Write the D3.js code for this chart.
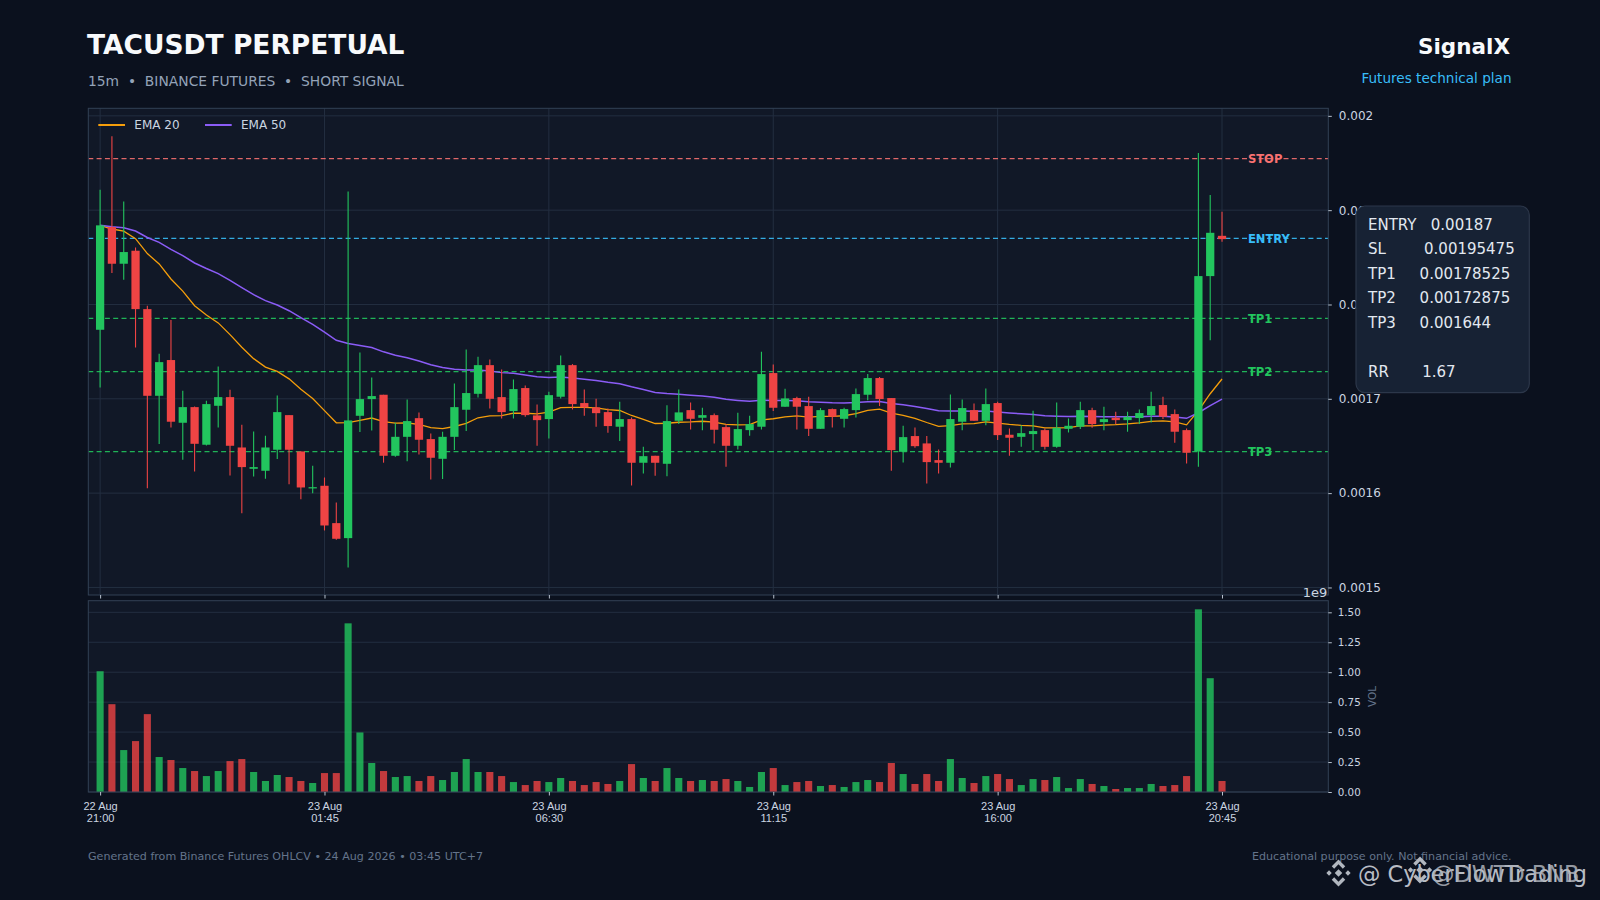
<!DOCTYPE html>
<html>
<head>
<meta charset="utf-8">
<script src="https://cdn.jsdelivr.net/npm/d3@7"></script>
<style>
  html, body { margin: 0; padding: 0; background: #0b111e; }
  svg { display: block; font-family: "DejaVu Sans", sans-serif; }
  .pre { white-space: pre; }
</style>
</head>
<body>
<svg id="chart" width="1600" height="900"></svg>
<script>
// ---------------- DATA ----------------
const symbol = "TACUSDT PERPETUAL";
const subtitle = "15m  \u2022  BINANCE FUTURES  \u2022  SHORT SIGNAL";
const startLabel = "22 Aug 21:00";   // first candle, 15m interval

const opens = [
  0.0017732,0.0018821,0.0018432,0.0018570,0.0017951,0.0017032,0.0017411,0.0016746,0.0016912,0.0016513,
  0.0016926,0.0017018,0.0016484,0.0016258,0.0016237,0.0016460,0.0016827,0.0016442,0.0016050,0.0016078,
  0.0015682,0.0015523,0.0016820,0.0016997,0.0017043,0.0016396,0.0016597,0.0016795,0.0016573,0.0016364,
  0.0016597,0.0016884,0.0017053,0.0017357,0.0017018,0.0016870,0.0017114,0.0016824,0.0016785,0.0017022,
  0.0017357,0.0016955,0.0016909,0.0016859,0.0016704,0.0016785,0.0016322,0.0016396,0.0016311,0.0016767,
  0.0016880,0.0016799,0.0016827,0.0016700,0.0016502,0.0016668,0.0016704,0.0017273,0.0016916,0.0017008,
  0.0016923,0.0016682,0.0016891,0.0016788,0.0016880,0.0017043,0.0017220,0.0017008,0.0016438,0.0016605,
  0.0016527,0.0016350,0.0016322,0.0016757,0.0016880,0.0016767,0.0016955,0.0016619,0.0016597,0.0016626,
  0.0016668,0.0016491,0.0016682,0.0016704,0.0016880,0.0016753,0.0016799,0.0016774,0.0016796,0.0016827,
  0.0016934,0.0016838,0.0016668,0.0016441,0.0018301,0.0018728
];
const highs = [
  0.0019217,0.0019783,0.0019093,0.0018605,0.0017987,0.0017478,0.0017835,0.0017085,0.0016919,0.0016979,
  0.0017343,0.0017096,0.0016725,0.0016654,0.0016608,0.0017036,0.0016827,0.0016442,0.0016290,0.0016166,
  0.0015901,0.0019199,0.0017492,0.0017227,0.0017043,0.0016746,0.0016993,0.0016856,0.0016633,0.0016650,
  0.0017163,0.0017524,0.0017446,0.0017418,0.0017312,0.0017205,0.0017142,0.0016940,0.0017075,0.0017460,
  0.0017368,0.0017099,0.0017000,0.0016898,0.0016969,0.0016802,0.0016491,0.0016396,0.0016933,0.0017099,
  0.0016962,0.0016905,0.0016845,0.0016732,0.0016852,0.0016820,0.0017499,0.0017365,0.0017106,0.0017022,
  0.0017022,0.0016902,0.0016898,0.0016905,0.0017110,0.0017262,0.0017231,0.0017008,0.0016714,0.0016696,
  0.0016605,0.0016463,0.0017046,0.0016993,0.0016951,0.0017110,0.0016969,0.0016686,0.0016721,0.0016873,
  0.0016686,0.0016962,0.0016792,0.0016969,0.0016905,0.0016916,0.0016863,0.0016863,0.0016887,0.0017075,
  0.0017022,0.0016887,0.0016686,0.0019605,0.0019160,0.0018983
];
const lows = [
  0.0017121,0.0018333,0.0018262,0.0017545,0.0016053,0.0016520,0.0016696,0.0016354,0.0016230,0.0016506,
  0.0016696,0.0016187,0.0015788,0.0016177,0.0016152,0.0016361,0.0016095,0.0015936,0.0016000,0.0015604,
  0.0015505,0.0015212,0.0016647,0.0016665,0.0016323,0.0016385,0.0016339,0.0016410,0.0016145,0.0016149,
  0.0016456,0.0016658,0.0017015,0.0016898,0.0016792,0.0016792,0.0016810,0.0016502,0.0016580,0.0017004,
  0.0016887,0.0016820,0.0016704,0.0016640,0.0016552,0.0016081,0.0016209,0.0016184,0.0016180,0.0016732,
  0.0016675,0.0016668,0.0016527,0.0016279,0.0016463,0.0016608,0.0016675,0.0016870,0.0016916,0.0016675,
  0.0016605,0.0016682,0.0016696,0.0016696,0.0016803,0.0016986,0.0016923,0.0016237,0.0016325,0.0016481,
  0.0016103,0.0016209,0.0016272,0.0016668,0.0016767,0.0016721,0.0016562,0.0016396,0.0016491,0.0016456,
  0.0016463,0.0016481,0.0016643,0.0016679,0.0016693,0.0016668,0.0016732,0.0016651,0.0016732,0.0016750,
  0.0016785,0.0016534,0.0016315,0.0016279,0.0017622,0.0018665
];
const closes = [
  0.0018839,0.0018432,0.0018556,0.0017951,0.0017032,0.0017389,0.0016757,0.0016912,0.0016523,0.0016944,
  0.0017018,0.0016502,0.0016276,0.0016276,0.0016484,0.0016859,0.0016460,0.0016060,0.0016063,0.0015657,
  0.0015516,0.0016771,0.0016997,0.0017029,0.0016396,0.0016597,0.0016764,0.0016566,0.0016375,0.0016597,
  0.0016912,0.0017061,0.0017357,0.0017000,0.0016859,0.0017103,0.0016827,0.0016774,0.0017039,0.0017357,
  0.0016944,0.0016909,0.0016848,0.0016711,0.0016785,0.0016322,0.0016392,0.0016322,0.0016764,0.0016856,
  0.0016788,0.0016827,0.0016672,0.0016502,0.0016679,0.0016732,0.0017262,0.0016905,0.0017004,0.0016916,
  0.0016682,0.0016880,0.0016810,0.0016891,0.0017050,0.0017220,0.0016997,0.0016456,0.0016594,0.0016498,
  0.0016329,0.0016322,0.0016785,0.0016902,0.0016767,0.0016944,0.0016615,0.0016587,0.0016636,0.0016658,
  0.0016491,0.0016693,0.0016714,0.0016880,0.0016732,0.0016785,0.0016774,0.0016810,0.0016849,0.0016923,
  0.0016810,0.0016651,0.0016428,0.0018301,0.0018760,0.0018693
];
const volumes = [
  1.008e9,0.733e9,0.350e9,0.425e9,0.650e9,0.292e9,0.267e9,0.200e9,0.175e9,0.133e9,
  0.175e9,0.258e9,0.275e9,0.167e9,0.092e9,0.142e9,0.125e9,0.092e9,0.075e9,0.158e9,
  0.158e9,1.408e9,0.497e9,0.242e9,0.175e9,0.125e9,0.133e9,0.092e9,0.133e9,0.100e9,
  0.167e9,0.275e9,0.167e9,0.167e9,0.133e9,0.083e9,0.058e9,0.092e9,0.083e9,0.117e9,
  0.092e9,0.058e9,0.083e9,0.067e9,0.092e9,0.233e9,0.117e9,0.092e9,0.200e9,0.117e9,
  0.092e9,0.100e9,0.092e9,0.108e9,0.092e9,0.042e9,0.167e9,0.200e9,0.058e9,0.083e9,
  0.092e9,0.050e9,0.058e9,0.042e9,0.083e9,0.100e9,0.083e9,0.242e9,0.150e9,0.067e9,
  0.150e9,0.092e9,0.275e9,0.117e9,0.075e9,0.133e9,0.150e9,0.108e9,0.058e9,0.108e9,
  0.100e9,0.125e9,0.033e9,0.108e9,0.067e9,0.050e9,0.025e9,0.033e9,0.033e9,0.067e9,
  0.050e9,0.058e9,0.133e9,1.525e9,0.950e9,0.092e9
];

// x tick labels (candle index -> label)
const xTickIndex = [0, 19, 38, 57, 76, 95];
const xTickDate  = ["22 Aug", "23 Aug", "23 Aug", "23 Aug", "23 Aug", "23 Aug"];
const xTickTime  = ["21:00", "01:45", "06:30", "11:15", "16:00", "20:45"];

const priceTicks = [0.0015, 0.0016, 0.0017, 0.0018, 0.0019, 0.002];
const volTicks   = [0, 0.25e9, 0.5e9, 0.75e9, 1.0e9, 1.25e9, 1.5e9];

// trade plan levels
const levelNames  = ["STOP", "ENTRY", "TP1", "TP2", "TP3"];
const levelValues = [0.00195475, 0.00187, 0.00178525, 0.00172875, 0.001644];
const planLabels  = ["ENTRY", "SL", "TP1", "TP2", "TP3", "", "RR"];
const planValues  = ["0.00187", "0.00195475", "0.00178525", "0.00172875", "0.001644", "", "1.67"];
const planGaps    = [3, 8, 5, 5, 5, 0, 7];

const emaSpans = [20, 50];

// ---------------- STYLE ----------------
const C = {
  bg: "#0b111e", face: "#111827", spine: "#334155", grid: "#232e40",
  up: "#22c55e", down: "#ef4444", text: "#cbd5e1", muted: "#94a3b8", faint: "#64748b",
  ema20: "#f59e0b", ema50: "#8b5cf6"
};
const levelColor = { STOP: "#f87171", ENTRY: "#38bdf8", TP1: "#22c55e", TP2: "#22c55e", TP3: "#22c55e" };

const svg = d3.select("#chart");
svg.append("rect").attr("width", 1600).attr("height", 900).attr("fill", C.bg);

const L = 88.3, R = 1328.3;
const P = { top: 108.3, bottom: 595 };
const V = { top: 600.7, bottom: 792 };

const n = closes.length;
const idx = d3.range(n);
const x = d3.scaleLinear().domain([-1, 104]).range([L, R]);
const yP = d3.scaleLinear().domain([0.001492, 0.002008]).range([P.bottom, P.top]);
const yV = d3.scaleLinear().domain([0, 1.597e9]).range([V.bottom, V.top]);
const step = x(1) - x(0);

function ema(arr, span) {
  const a = 2 / (span + 1); const out = [];
  arr.forEach((v, i) => out.push(i === 0 ? v : a * v + (1 - a) * out[i - 1]));
  return out;
}

// panels
svg.append("rect").attr("x", L).attr("y", P.top).attr("width", R - L).attr("height", P.bottom - P.top).attr("fill", C.face);
svg.append("rect").attr("x", L).attr("y", V.top).attr("width", R - L).attr("height", V.bottom - V.top).attr("fill", C.face);

// grids
const gP = svg.append("g");
gP.selectAll("line.h").data(priceTicks).join("line")
  .attr("x1", L).attr("x2", R).attr("y1", d => yP(d)).attr("y2", d => yP(d))
  .attr("stroke", C.grid).attr("stroke-width", 1);
gP.selectAll("line.v").data(xTickIndex).join("line")
  .attr("y1", P.top).attr("y2", P.bottom).attr("x1", d => x(d)).attr("x2", d => x(d))
  .attr("stroke", C.grid).attr("stroke-width", 1);
const gV = svg.append("g");
gV.selectAll("line").data(volTicks).join("line")
  .attr("x1", L).attr("x2", R).attr("y1", d => yV(d)).attr("y2", d => yV(d))
  .attr("stroke", C.grid).attr("stroke-width", 1);

// clip for price panel
svg.append("clipPath").attr("id", "clipP").append("rect")
  .attr("x", L).attr("y", P.top).attr("width", R - L).attr("height", P.bottom - P.top);
const plot = svg.append("g").attr("clip-path", "url(#clipP)");

// level lines
plot.selectAll("line.lvl").data(levelValues).join("line")
  .attr("x1", L).attr("x2", R).attr("y1", d => yP(d)).attr("y2", d => yP(d))
  .attr("stroke", (d, i) => levelColor[levelNames[i]]).attr("stroke-width", 1.2)
  .attr("stroke-dasharray", "5,3.3").attr("opacity", 0.9);

// EMAs
const lineGen = d3.line().x((d, i) => x(i)).y(d => yP(d));
const emaColors = [C.ema20, C.ema50];
emaSpans.forEach((s, k) => {
  plot.append("path").attr("d", lineGen(ema(closes, s)))
    .attr("fill", "none").attr("stroke", emaColors[k]).attr("stroke-width", k === 0 ? 1.3 : 1.5);
});

// candles
const cw = step * 0.7;
const cg = plot.append("g");
cg.selectAll("line").data(idx).join("line")
  .attr("x1", i => x(i)).attr("x2", i => x(i))
  .attr("y1", i => yP(highs[i])).attr("y2", i => yP(lows[i]))
  .attr("stroke", i => closes[i] >= opens[i] ? C.up : C.down).attr("stroke-width", 1.1);
cg.selectAll("rect").data(idx).join("rect")
  .attr("x", i => x(i) - cw / 2).attr("width", cw)
  .attr("y", i => yP(Math.max(opens[i], closes[i])))
  .attr("height", i => Math.max(1, Math.abs(yP(opens[i]) - yP(closes[i]))))
  .attr("fill", i => closes[i] >= opens[i] ? C.up : C.down);

// level labels
plot.selectAll("text.lvl").data(levelNames).join("text")
  .attr("x", x(n - 1 + 2.2)).attr("y", (d, i) => yP(levelValues[i])).attr("dy", "0.36em")
  .attr("fill", d => levelColor[d]).attr("font-weight", "bold").attr("font-size", 11.5).text(d => d);

// volume bars
const vw = step * 0.6;
svg.append("g").selectAll("rect").data(idx).join("rect")
  .attr("x", i => x(i) - vw / 2).attr("width", vw)
  .attr("y", i => yV(volumes[i])).attr("height", i => yV(0) - yV(volumes[i]))
  .attr("fill", i => closes[i] >= opens[i] ? C.up : C.down).attr("fill-opacity", 0.8);

// spines
[[P.top, P.bottom], [V.top, V.bottom]].forEach(([t, b]) => {
  svg.append("rect").attr("x", L).attr("y", t).attr("width", R - L).attr("height", b - t)
    .attr("fill", "none").attr("stroke", C.spine).attr("stroke-width", 1);
});

// axes
function styleAxis(g, fs) {
  g.select(".domain").remove();
  g.selectAll(".tick line").attr("stroke", C.text).attr("stroke-width", 0.9);
  g.selectAll(".tick text").attr("fill", C.text).attr("font-size", fs).attr("font-family", "DejaVu Sans");
}
const ayP = svg.append("g").attr("transform", `translate(${R},0)`)
  .call(d3.axisRight(yP).tickValues(priceTicks).tickSize(3.5).tickPadding(7).tickFormat(d3.format(".4~f")));
styleAxis(ayP, 12);
const ayV = svg.append("g").attr("transform", `translate(${R},0)`)
  .call(d3.axisRight(yV).tickValues(volTicks).tickSize(3.5).tickPadding(6).tickFormat(d => (d / 1e9).toFixed(2)));
styleAxis(ayV, 10.3);
const axP = svg.append("g").attr("transform", `translate(0,${P.bottom})`)
  .call(d3.axisBottom(x).tickValues(xTickIndex).tickSize(3.5).tickFormat(""));
styleAxis(axP, 11);
const axV = svg.append("g").attr("transform", `translate(0,${V.bottom})`)
  .call(d3.axisBottom(x).tickValues(xTickIndex).tickSize(3.5).tickFormat(""));
styleAxis(axV, 11);
axV.selectAll(".tick").each(function (d) {
  const k = xTickIndex.indexOf(d);
  const t = d3.select(this).append("text").attr("fill", C.text).attr("font-size", 11)
    .attr("text-anchor", "middle");
  t.append("tspan").attr("x", 0).attr("y", 18).text(xTickDate[k]);
  t.append("tspan").attr("x", 0).attr("y", 29.5).text(xTickTime[k]);
});

// offset text and VOL label
svg.append("text").attr("x", R - 1).attr("y", 596.5).attr("text-anchor", "end")
  .attr("fill", C.text).attr("font-size", 13).text("1e9");
svg.append("text").attr("transform", `translate(1375.5,${(V.top + V.bottom) / 2}) rotate(-90)`)
  .attr("text-anchor", "middle").attr("fill", C.faint).attr("font-size", 10.5).text("VOL");

// legend
const legend = svg.append("g");
[["EMA 20", C.ema20, 98.3], ["EMA 50", C.ema50, 205]].forEach(([lab, col, lx]) => {
  legend.append("line").attr("x1", lx).attr("x2", lx + 26.7).attr("y1", 125).attr("y2", 125)
    .attr("stroke", col).attr("stroke-width", 2);
  legend.append("text").attr("x", lx + 36).attr("y", 129.3).attr("fill", C.text).attr("font-size", 12).text(lab);
});

// titles
svg.append("text").attr("x", 87).attr("y", 54).attr("fill", "#f8fafc").attr("font-size", 26.5)
  .attr("font-weight", "bold").text(symbol);
svg.append("text").attr("class", "pre").attr("x", 88).attr("y", 86).attr("fill", C.muted)
  .attr("font-size", 13.85).text(subtitle);
svg.append("text").attr("x", 1510).attr("y", 54).attr("text-anchor", "end").attr("fill", "#f8fafc")
  .attr("font-size", 21.5).attr("font-weight", "bold").text("SignalX");
svg.append("text").attr("x", 1511.5).attr("y", 82.5).attr("text-anchor", "end").attr("fill", "#38bdf8")
  .attr("font-size", 13.6).text("Futures technical plan");

// info box
svg.append("rect").attr("x", 1356).attr("y", 206).attr("width", 173.3).attr("height", 186.7)
  .attr("rx", 9).attr("fill", "#172234").attr("stroke", "#2c374a").attr("stroke-width", 1.2);
const info = svg.append("text").attr("class", "pre").attr("fill", "#e2e8f0").attr("font-size", 15);
planLabels.forEach((lab, i) => {
  info.append("tspan").attr("x", 1368).attr("y", 229.5 + i * 24.5)
    .text(lab === "" ? " " : lab + " ".repeat(planGaps[i]) + planValues[i]);
});

// footer
svg.append("text").attr("x", 88).attr("y", 860).attr("fill", C.faint).attr("font-size", 11.1)
  .text("Generated from Binance Futures OHLCV \u2022 24 Aug 2026 \u2022 03:45 UTC+7");
svg.append("text").attr("x", 1511.5).attr("y", 860).attr("text-anchor", "end").attr("fill", C.faint)
  .attr("font-size", 11.1).text("Educational purpose only. Not financial advice.");

// watermark (two overlapping layers)
function bnbLogo(g, cx, cy, s) {
  const dia = (x0, y0, r) => `M${x0},${y0 - r}L${x0 + r},${y0}L${x0},${y0 + r}L${x0 - r},${y0}Z`;
  g.append("path").attr("d", dia(cx, cy, s * 0.28) + dia(cx - s * 0.7, cy, s * 0.2) + dia(cx + s * 0.7, cy, s * 0.2))
    .attr("fill", "#cfd4dc");
  g.append("path").attr("d",
    `M${cx},${cy - s}L${cx + s * 0.5},${cy - s * 0.5}L${cx + s * 0.32},${cy - s * 0.32}L${cx},${cy - s * 0.64}L${cx - s * 0.32},${cy - s * 0.32}L${cx - s * 0.5},${cy - s * 0.5}Z` +
    `M${cx},${cy + s}L${cx + s * 0.5},${cy + s * 0.5}L${cx + s * 0.32},${cy + s * 0.32}L${cx},${cy + s * 0.64}L${cx - s * 0.32},${cy + s * 0.32}L${cx - s * 0.5},${cy + s * 0.5}Z`)
    .attr("fill", "#cfd4dc");
}
const wm = svg.append("g").attr("opacity", 0.85);
bnbLogo(wm, 1338.5, 873, 13.5);
wm.append("text").attr("x", 1358).attr("y", 881.5).attr("fill", "#d7dbe2").attr("font-size", 22.4).text("@ CyberFlowTrading");
bnbLogo(wm, 1420, 870, 13.5);
wm.append("text").attr("x", 1432).attr("y", 881.5).attr("fill", "#c9ced6").attr("font-size", 22.4).attr("opacity", 0.85).text("@DWTD BNB");
</script>
</body>
</html>
